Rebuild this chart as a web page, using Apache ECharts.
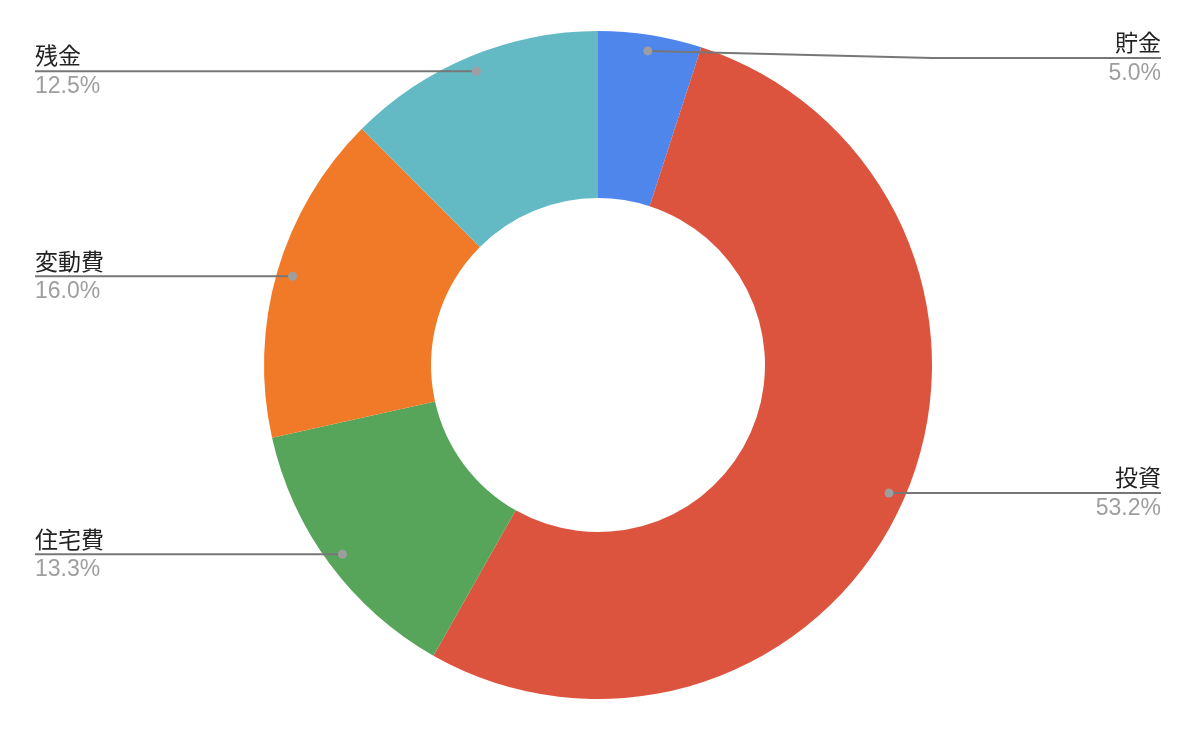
<!DOCTYPE html>
<html>
<head>
<meta charset="utf-8">
<style>
  html, body { margin: 0; padding: 0; background: #fff; }
  #chart { width: 1198px; height: 730px; }
</style>
<script src="https://cdn.jsdelivr.net/npm/echarts@6/dist/echarts.min.js"></script>
</head>
<body>
<div id="chart"></div>
<script>
  // 予算の内訳
  const categories = ['貯金', '投資', '住宅費', '変動費', '残金']
  const values = [5.0, 53.2, 13.3, 16.0, 12.5]
  const colors = ['#4e86ec', '#dc543e', '#57a55a', '#f07a27', '#63b9c4']

  const CX = 598, CY = 365, R_IN = 167, R_OUT = 334
  const DOT_R = 318        // 点の半径
  const LEFT_EDGE = 35, RIGHT_EDGE = 1161
  const LABEL_MIN_Y = 58

  const total = values.reduce((a, b) => a + b, 0)
  // 各扇形の中心角（0..total の単位）
  const mids = []
  let acc = 0
  values.forEach(v => { mids.push(acc + v / 2); acc += v })

  function dotPos(i) {
    const a = mids[i] / total * Math.PI * 2
    return [CX + DOT_R * Math.sin(a), CY - DOT_R * Math.cos(a)]
  }

  const pieBase = {
    type: 'pie',
    center: [CX, CY],
    radius: [R_IN, R_OUT],
    startAngle: 90,
    clockwise: true,
    avoidLabelOverlap: false,
    emphasis: {disabled: true},
    silent: true
  }

  const chart = echarts.init(document.getElementById('chart'))

  chart.setOption({
    animation: false,
    polar: {center: [CX, CY], radius: [0, R_OUT]},
    angleAxis: {type: 'value', min: 0, max: total, startAngle: 90, clockwise: true, show: false},
    radiusAxis: {type: 'value', min: 0, max: R_OUT, show: false},
    series: [
      // 扇形
      Object.assign({}, pieBase, {
        data: categories.map((c, i) => ({name: c, value: values[i], itemStyle: {color: colors[i]}})),
        label: {show: false},
        labelLine: {show: false},
        z: 1
      }),
      // ラベルと引き出し線（扇形の上に描く）
      Object.assign({}, pieBase, {
        data: categories.map((c, i) => ({name: c, value: values[i]})),
        itemStyle: {color: 'rgba(0,0,0,0)'},
        label: {
          show: true,
          position: 'outside',
          formatter: p => '{name|' + p.name + '}\n{pct|' + p.value.toFixed(1) + '%}',
          rich: {
            name: {fontSize: 23, lineHeight: 31, color: '#222', fontFamily: '"Noto Sans CJK JP", sans-serif'},
            pct: {fontSize: 23, lineHeight: 31, color: '#9e9e9e', fontFamily: '"Liberation Sans", Arial, sans-serif'}
          }
        },
        labelLine: {show: true, lineStyle: {color: '#777', width: 2}},
        labelLayout: function (p) {
          const d = dotPos(p.dataIndex)
          const right = d[0] > CX
          const y = Math.max(d[1], LABEL_MIN_Y)
          const edge = right ? RIGHT_EDGE : LEFT_EDGE
          const bend = right ? CX + R_OUT : CX - R_OUT
          return {
            x: edge,
            y: y,
            align: right ? 'right' : 'left',
            verticalAlign: 'middle',
            labelLinePoints: [d, [bend, y], [edge, y]]
          }
        },
        z: 3
      }),
      {
        type: 'scatter',
        coordinateSystem: 'polar',
        symbolSize: 9,
        itemStyle: {color: '#9e9e9e', opacity: 1},
        data: mids.map(m => [DOT_R, m]),
        silent: true,
        z: 5
      }
    ]
  })
</script>
</body>
</html>
